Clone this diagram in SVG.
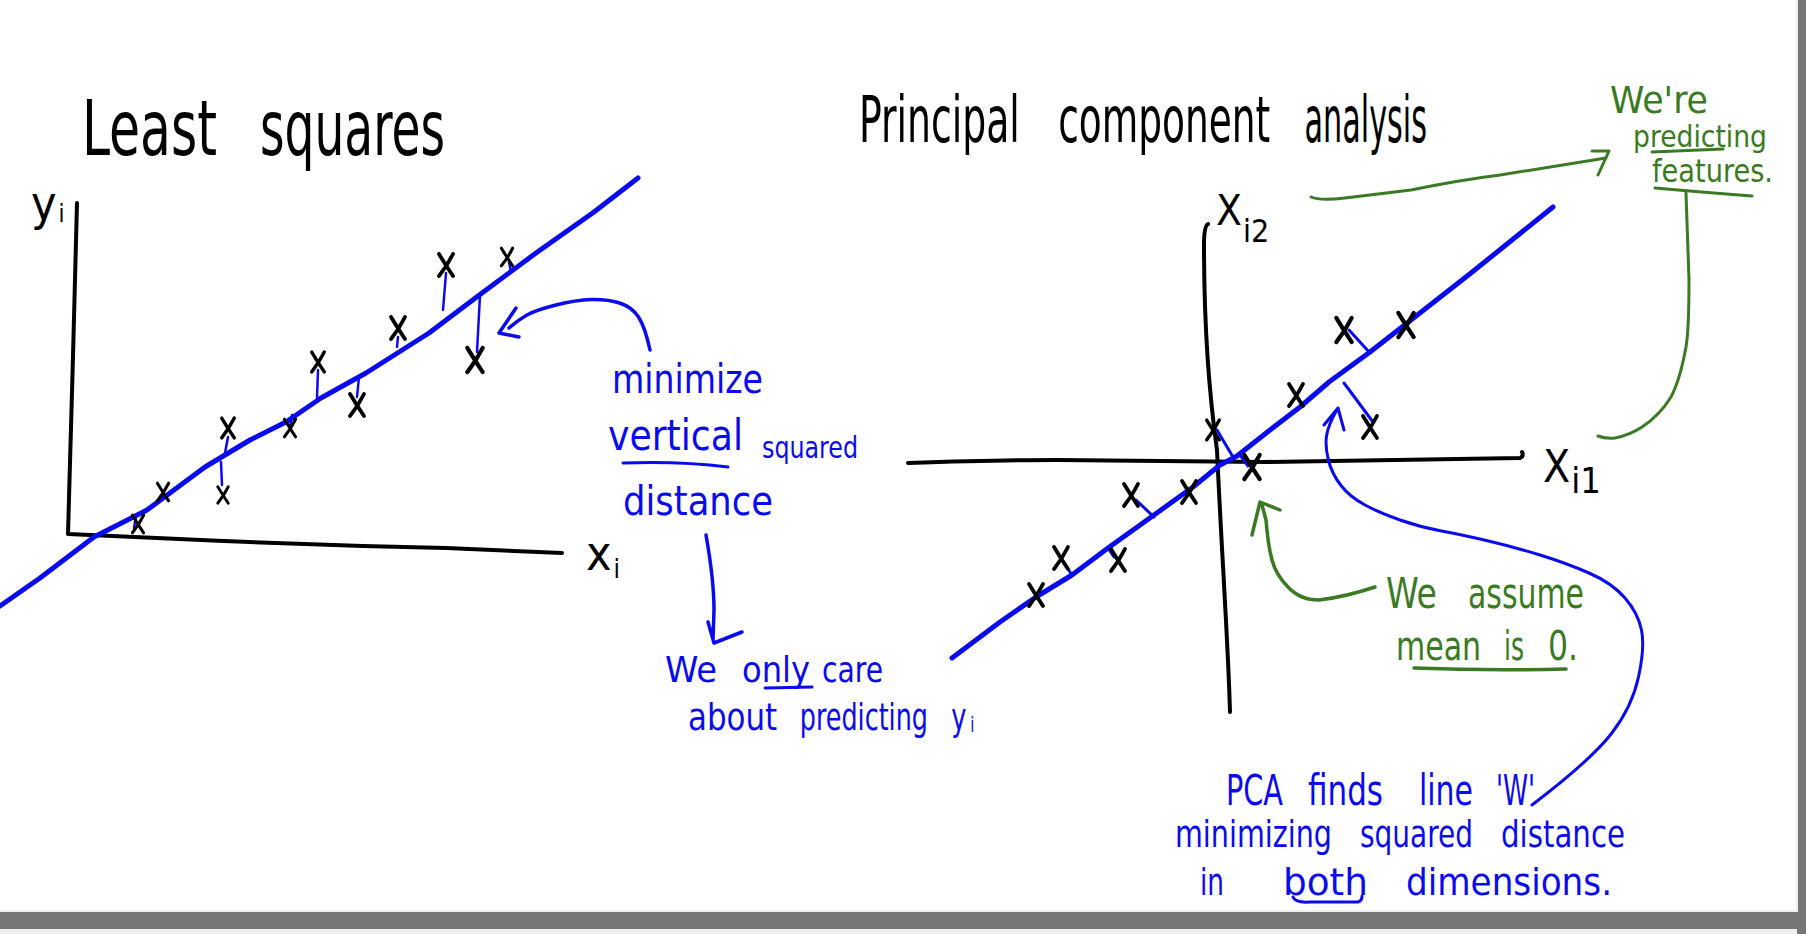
<svg xmlns="http://www.w3.org/2000/svg" xmlns:xlink="http://www.w3.org/1999/xlink" width="1806" height="934" viewBox="0 0 1806 934">
<style>
.s{fill:none;stroke-linecap:round;stroke-linejoin:round}
.k{stroke:#000}
.b{stroke:#0a0aef}
.g{stroke:#3a7a22}
.t{font-family:"Liberation Sans Narrow","DejaVu Sans Condensed","Liberation Sans",sans-serif}
.tk{fill:#000}
.tb{fill:#0a0aef}
.tg{fill:#3a7a22}
</style>
<defs>
<path id="xm" class="s k" stroke-width="3.8" d="M-7,-11 Q-1,-1 7,11 M7,-11 Q1,1 -7,11"/>
</defs>
<rect x="0" y="0" width="1806" height="934" fill="#767676"/>
<rect x="0" y="0" width="1798" height="912" fill="#eeeeee"/>
<rect x="0" y="929" width="1797" height="5" fill="#eeeeee"/>
<rect x="0" y="0" width="1796" height="910" fill="#ffffff"/>

<g id="least-squares">
  <text class="t tk" y="155" font-size="76"><tspan x="82" textLength="135" lengthAdjust="spacingAndGlyphs">Least</tspan> <tspan x="260" textLength="185" lengthAdjust="spacingAndGlyphs">squares</tspan></text>
  <g id="ls-axes">
    <path class="s k" stroke-width="4" d="M77,203 C75,300 70,450 68,534 L179,539 Q312,545 446,548 L562,553"/>
    <text class="t tk" x="31" y="220" font-size="48">y<tspan font-size="24" dx="2" dy="2">i</tspan></text>
    <text class="t tk" x="586" y="570" font-size="48">x<tspan font-size="26" dx="2" dy="8">i</tspan></text>
  </g>
  <g id="ls-residuals">
    <path class="s b" stroke-width="2.5" d="M136,516 L134,528 M228,437 L225,453 M221,462 L222,485 M292,415 L290,427 M318,370 L317,398 M359,377 L357,397 M398,337 L397,347 M446,273 L443,310 M480,295 L477,352 M509,262 L511,272"/>
  </g>
  <g id="ls-line">
    <polyline class="s b" stroke-width="5" points="0,606 40,578 94,537 147,510 205,467 250,440 286,422 321,398 366,373 429,333 482,293 536,253 594,212 638,178"/>
  </g>
  <g id="ls-points">
    <use xlink:href="#xm" transform="translate(138,524) scale(0.8)"/>
    <use xlink:href="#xm" transform="translate(163,492) scale(0.8)"/>
    <use xlink:href="#xm" transform="translate(228,428) scale(0.9)"/>
    <use xlink:href="#xm" transform="translate(223,495) scale(0.75)"/>
    <use xlink:href="#xm" transform="translate(290,428) scale(0.8)"/>
    <use xlink:href="#xm" transform="translate(318,362) scale(0.9)"/>
    <use xlink:href="#xm" transform="translate(357,405)"/>
    <use xlink:href="#xm" transform="translate(398,328)"/>
    <use xlink:href="#xm" transform="translate(446,265)"/>
    <use xlink:href="#xm" transform="translate(475,360) scale(1.1)"/>
    <use xlink:href="#xm" transform="translate(507,257) scale(0.8)"/>
  </g>
</g>

<g id="ls-notes">
  <text class="t tb" x="612" y="393" font-size="40" textLength="151" lengthAdjust="spacingAndGlyphs">minimize</text>
  <text class="t tb" x="608" y="450" font-size="42" textLength="135" lengthAdjust="spacingAndGlyphs">vertical</text>
  <text class="t tb" x="762" y="458" font-size="30" textLength="96" lengthAdjust="spacingAndGlyphs">squared</text>
  <text class="t tb" x="623" y="515" font-size="40" textLength="150" lengthAdjust="spacingAndGlyphs">distance</text>
  <path class="s b" stroke-width="3" d="M623,463 Q680,461 728,467"/>
</g>

<g id="ls-care">
  <text class="t tb" y="682" font-size="36"><tspan x="665" textLength="52" lengthAdjust="spacingAndGlyphs">We</tspan> <tspan x="742" textLength="68" lengthAdjust="spacingAndGlyphs">only</tspan> <tspan x="822" textLength="61" lengthAdjust="spacingAndGlyphs">care</tspan></text>
  <text class="t tb" font-size="38" transform="translate(688,730) scale(0.75,1)"><tspan x="0" textLength="119" lengthAdjust="spacingAndGlyphs">about</tspan> <tspan x="149" textLength="171" lengthAdjust="spacingAndGlyphs">predicting</tspan> <tspan x="351">y</tspan><tspan font-size="22" dx="5" dy="2">i</tspan></text>
  <path class="s b" stroke-width="3" d="M765,688 L812,687"/>
</g>

<g id="pca">
  <text class="t tk" font-size="64" transform="translate(859,142) scale(0.8,1)"><tspan x="0" textLength="201" lengthAdjust="spacingAndGlyphs">Principal</tspan> <tspan x="249" textLength="265" lengthAdjust="spacingAndGlyphs">component</tspan> <tspan x="557" textLength="153" lengthAdjust="spacingAndGlyphs">analysis</tspan></text>
  <g id="pca-axes">
    <path class="s k" stroke-width="4" d="M1208,224 Q1204,226 1204,245 C1204,330 1210,400 1217,450 C1222,560 1228,640 1230,712"/>
    <path class="s k" stroke-width="4" d="M908,463 Q1000,460 1057,460 L1264,462 L1520,458 Q1524,456 1522,452"/>
    <text class="t tk" x="1216" y="225" font-size="42">X<tspan font-size="32" dx="1" dy="17">i2</tspan></text>
    <text class="t tk" x="1543" y="482" font-size="44">X<tspan font-size="36" dx="1" dy="11">i1</tspan></text>
  </g>
  <g id="pca-residuals">
    <path class="s b" stroke-width="3" d="M1349,330 L1370,353 M1344,383 L1373,422 M1217,430 L1233,457 M1240,455 L1248,466 M1136,500 L1154,517 M1064,563 L1072,575 M1108,548 L1114,557"/>
  </g>
  <g id="pca-line">
    <polyline class="s b" stroke-width="5" points="952,658 1000,622 1036,597 1072,575 1108,548 1154,515 1193,487 1220,465 1237,456 1270,430 1300,407 1329,382 1370,352 1411,320 1471,273 1553,207"/>
  </g>
  <g id="pca-points">
    <use xlink:href="#xm" transform="translate(1344,330) scale(1.1)"/>
    <use xlink:href="#xm" transform="translate(1406,325) scale(1.1)"/>
    <use xlink:href="#xm" transform="translate(1296,395)"/>
    <use xlink:href="#xm" transform="translate(1370,427)"/>
    <use xlink:href="#xm" transform="translate(1213,430) scale(0.9)"/>
    <use xlink:href="#xm" transform="translate(1252,467) scale(1.1)"/>
    <use xlink:href="#xm" transform="translate(1131,495)"/>
    <use xlink:href="#xm" transform="translate(1189,492)"/>
    <use xlink:href="#xm" transform="translate(1061,558)"/>
    <use xlink:href="#xm" transform="translate(1118,560)"/>
    <use xlink:href="#xm" transform="translate(1036,595)"/>
  </g>
</g>

<g id="pca-features">
  <text class="t tg" x="1610" y="113" font-size="38" textLength="98" lengthAdjust="spacingAndGlyphs">We're</text>
  <text class="t tg" x="1633" y="147" font-size="30" textLength="134" lengthAdjust="spacingAndGlyphs">predicting</text>
  <text class="t tg" x="1652" y="182" font-size="32" textLength="121" lengthAdjust="spacingAndGlyphs">features.</text>
  <path class="s g" stroke-width="3" d="M1652,152 L1723,149 M1655,188 Q1700,192 1752,196"/>
</g>

<g id="pca-mean">
  <text class="t tg" y="608" font-size="42"><tspan x="1386" textLength="51" lengthAdjust="spacingAndGlyphs">We</tspan> <tspan x="1468" textLength="116" lengthAdjust="spacingAndGlyphs">assume</tspan></text>
  <text class="t tg" y="660" font-size="40"><tspan x="1396" textLength="85" lengthAdjust="spacingAndGlyphs">mean</tspan> <tspan x="1504" textLength="20" lengthAdjust="spacingAndGlyphs">is</tspan> <tspan x="1548" textLength="30" lengthAdjust="spacingAndGlyphs">0.</tspan></text>
  <path class="s g" stroke-width="3.5" d="M1414,668 Q1490,671 1566,669"/>
</g>

<g id="pca-finds">
  <text class="t tb" y="805" font-size="42"><tspan x="1226" textLength="57" lengthAdjust="spacingAndGlyphs">PCA</tspan> <tspan x="1308" textLength="75" lengthAdjust="spacingAndGlyphs">finds</tspan> <tspan x="1419" textLength="54" lengthAdjust="spacingAndGlyphs">line</tspan> <tspan x="1496" textLength="39" lengthAdjust="spacingAndGlyphs">'W'</tspan></text>
  <text class="t tb" y="847" font-size="38"><tspan x="1175" textLength="157" lengthAdjust="spacingAndGlyphs">minimizing</tspan> <tspan x="1360" textLength="113" lengthAdjust="spacingAndGlyphs">squared</tspan> <tspan x="1501" textLength="124" lengthAdjust="spacingAndGlyphs">distance</tspan></text>
  <text class="t tb" y="895" font-size="38"><tspan x="1200" textLength="24" lengthAdjust="spacingAndGlyphs">in</tspan> <tspan x="1283" textLength="85" lengthAdjust="spacingAndGlyphs">both</tspan> <tspan x="1406" textLength="206" lengthAdjust="spacingAndGlyphs">dimensions.</tspan></text>
  <path class="s b" stroke-width="3" d="M1293,897 Q1295,903 1310,902 L1358,902 Q1362,901 1362,896"/>
</g>

<g id="connectors">
  <path class="s b" stroke-width="3.5" d="M650,350 Q645,327 638.5,317 Q632,307 619.5,303 Q607,299 591.5,299.5 Q576,300 556,305 Q536,310 527,315 Q518,320 509,328 M516,308 L499,333 L519,337"/>
  <path class="s b" stroke-width="3.5" d="M706,535 Q714,580 714,610 L713,640 M708,622 L714,643 L742,632"/>
  <path class="s b" stroke-width="3" d="M1532,805 Q1591,760 1611.5,733.5 Q1632,707 1638.5,677 Q1645,647 1641.5,630 Q1638,613 1625,598 Q1612,583 1589,573 Q1566,563 1540,555 Q1514,547 1488.5,541 Q1463,535 1441.5,531 Q1420,527 1400,520 Q1380,513 1365,505 Q1350,497 1341,485.5 Q1332,474 1328.5,460.5 Q1325,447 1326.5,436 Q1328,425 1338,408 M1324,425 L1338,408 L1344,430"/>
  <path class="s g" stroke-width="3" d="M1311,197 Q1320,201 1345,198 L1411,190 Q1460,180 1500,175 L1606,158 M1592,151 L1609,151 L1598,175"/>
  <path class="s g" stroke-width="3" d="M1686,193 L1689,280 Q1689,330 1686,347 Q1680,380 1671,397 Q1660,415 1642,427 Q1630,435 1615,438 Q1605,439 1598,436"/>
  <path class="s g" stroke-width="3.5" d="M1375,587 Q1345,597 1319,600 Q1300,600 1288,587 Q1276,575 1272,560 Q1268,545 1266,520 L1262,505 M1252,535 L1260,502 L1280,510"/>
</g>
</svg>
